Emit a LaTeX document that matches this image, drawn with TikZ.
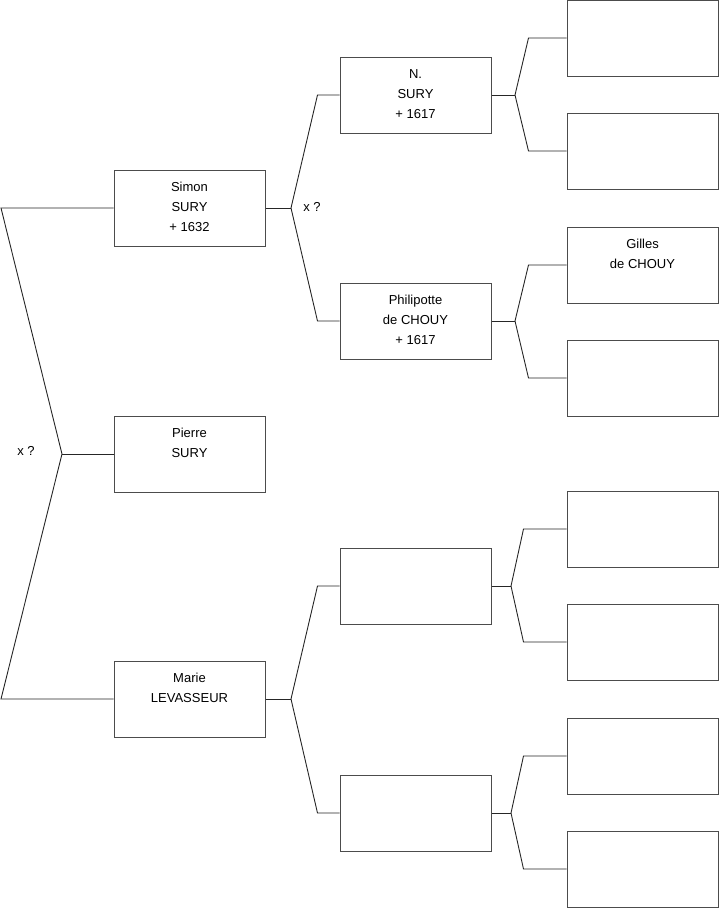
\documentclass[tikz,border=0pt]{standalone}
\usepackage{fontspec}
\setmainfont{Liberation Sans}
\begin{document}
\begin{tikzpicture}[x=1pt,y=-1pt,
 box/.style={draw=black!70, line width=1pt, minimum width=151pt, minimum height=76pt, inner sep=0pt},
 txt/.style={align=center, font=\fontsize{13}{20}\selectfont, inner sep=0pt, anchor=north},
 conn/.style={draw=black!85, line width=0.9pt},
 lbl/.style={font=\fontsize{13}{15}\selectfont, inner sep=0pt}]
\useasboundingbox (0,0) rectangle (719,908);
% column 1
\node[box] (simon) at (189.5,208) {};
\node[box] (pierre) at (189.5,454) {};
\node[box] (marie) at (189.5,699) {};
% column 2
\node[box] (nsury) at (415.5,95) {};
\node[box] (phil) at (415.5,321) {};
\node[box] (e21) at (415.5,586) {};
\node[box] (e22) at (415.5,813) {};
% column 3
\node[box] (e31) at (642.5,38) {};
\node[box] (e32) at (642.5,151) {};
\node[box] (gilles) at (642.5,265) {};
\node[box] (e34) at (642.5,378) {};
\node[box] (e35) at (642.5,529) {};
\node[box] (e36) at (642.5,642) {};
\node[box] (e37) at (642.5,756) {};
\node[box] (e38) at (642.5,869) {};
% texts
\node[txt] (simont) at ([yshift=-12.5pt]simon.north) {Simon\\SURY\\+ 1632};
\node[txt] (pierret) at ([yshift=-12.5pt]pierre.north) {Pierre\\SURY};
\node[txt] (mariet) at ([yshift=-12.5pt]marie.north) {Marie\\LEVASSEUR};
\node[txt] (nsuryt) at ([yshift=-12.5pt]nsury.north) {N.\\SURY\\+ 1617};
\node[txt] (philt) at ([yshift=-12.5pt]phil.north) {Philipotte\\de CHOUY\\+ 1617};
\node[txt] (gillest) at ([yshift=-12.5pt]gilles.north) {Gilles\\de CHOUY};
\node[lbl] (x0) at (26,451) {x ?};
\node[lbl] (x1) at (312,207) {x ?};
% connectors level 0
\coordinate (c0a) at (1,208);
\coordinate (c0b) at (1,699);
\coordinate (f0) at (62,454);
\draw[conn] (simon.west) -- (c0a) -- (f0) -- (c0b) -- (marie.west);
\draw[conn] (f0) -- (pierre.west);
% level 1
\coordinate (f1) at (291,208);
\draw[conn] (simon.east) -- (f1);
\draw[conn] (f1) -- ([xshift=-22pt]nsury.west) -- (nsury.west);
\draw[conn] (f1) -- ([xshift=-22pt]phil.west) -- (phil.west);
\coordinate (f2) at (291,699);
\draw[conn] (marie.east) -- (f2);
\draw[conn] (f2) -- ([xshift=-22pt]e21.west) -- (e21.west);
\draw[conn] (f2) -- ([xshift=-22pt]e22.west) -- (e22.west);
% level 2
\coordinate (g1) at (515,95);
\draw[conn] (nsury.east) -- (g1);
\draw[conn] (g1) -- ([xshift=-38pt]e31.west) -- (e31.west);
\draw[conn] (g1) -- ([xshift=-38pt]e32.west) -- (e32.west);
\coordinate (g2) at (515,321);
\draw[conn] (phil.east) -- (g2);
\draw[conn] (g2) -- ([xshift=-38pt]gilles.west) -- (gilles.west);
\draw[conn] (g2) -- ([xshift=-38pt]e34.west) -- (e34.west);
\coordinate (g3) at (511,586);
\draw[conn] (e21.east) -- (g3);
\draw[conn] (g3) -- ([xshift=-43pt]e35.west) -- (e35.west);
\draw[conn] (g3) -- ([xshift=-43pt]e36.west) -- (e36.west);
\coordinate (g4) at (511,813);
\draw[conn] (e22.east) -- (g4);
\draw[conn] (g4) -- ([xshift=-43pt]e37.west) -- (e37.west);
\draw[conn] (g4) -- ([xshift=-43pt]e38.west) -- (e38.west);
\end{tikzpicture}
\end{document}
